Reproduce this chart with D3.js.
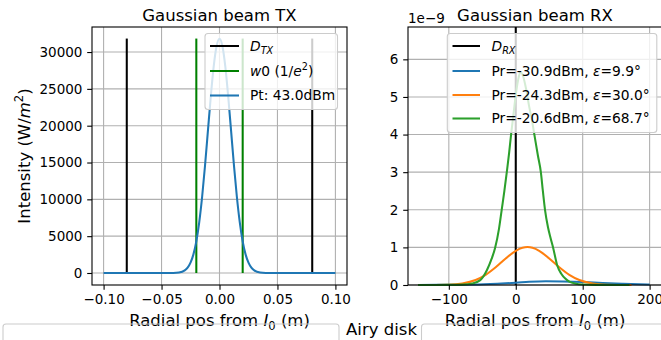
<!DOCTYPE html>
<html>
<head>
<meta charset="utf-8">
<script src="https://d3js.org/d3.v7.min.js"></script>
<style>
body { margin: 0; background: #fff; }
text { font-family: "DejaVu Sans", sans-serif; fill: #000; }
</style>
</head>
<body>
<script>
// TX beam profile (radial position in m, intensity in W/m^2)
var txPos = [-0.1, -0.06, -0.045, -0.04, -0.035, -0.03, -0.0275, -0.025, -0.0225, -0.02, -0.0175, -0.015, -0.0125, -0.01, -0.0075, -0.005, -0.0025,
  0, 0.0025, 0.005, 0.0075, 0.01, 0.0125, 0.015, 0.0175, 0.02, 0.0225, 0.025, 0.0275, 0.03, 0.035, 0.04, 0.045, 0.06, 0.1];
var txIntensity = [0, 0, 1, 11, 70, 353, 725, 1400, 2530, 4300, 6880, 10320, 14560, 19290, 24000, 28060, 30820,
  31800, 30820, 28060, 24000, 19290, 14560, 10320, 6880, 4300, 2530, 1400, 725, 353, 70, 11, 1, 0, 0];
var txAperture = [-0.08, 0.08];
var txWaist = [-0.02, 0.02];
var txLineTop = 31830;
var txTicksX = [-0.1, -0.05, 0, 0.05, 0.1];
var txTicksY = [0, 5000, 10000, 15000, 20000, 25000, 30000];

// RX profiles (radial position in m, intensity in 1e-9 W/m^2)
var rxPosBlue = [-146, -100, -48, 0, 20, 45, 70, 100, 130, 160, 200];
var rxBlue = [0, 0.005, 0.02, 0.06, 0.085, 0.1, 0.095, 0.08, 0.055, 0.035, 0.012];
var rxPosOrange = [-146, -100, -80, -60, -45, -30, -15, 0, 10, 17.5, 25, 35, 50, 65, 80, 95, 115, 135, 173];
var rxOrange = [0, 0.009, 0.04, 0.132, 0.269, 0.47, 0.706, 0.91, 0.99, 1.01, 0.99, 0.91, 0.706, 0.47, 0.269, 0.132, 0.04, 0.009, 0];
var rxPosGreen = [-146, -100, -80, -65, -53, -43, -36, -31, -25, -21, -17, -13.4, -10, -7, -3, 0, 3.5, 7, 11, 15, 20, 24, 27.8, 33, 37.5, 40.5, 43.7, 48, 52, 56, 62, 68, 74, 80, 90, 100, 120, 170];
var rxGreen = [0, 0.003, 0.01, 0.04, 0.13, 0.4, 0.7, 0.98, 1.5, 2.0, 2.5, 3.0, 3.5, 4.0, 4.6, 5.05, 5.45, 5.66, 5.55, 5.25, 4.75, 4.4, 4.0, 3.45, 3.0, 2.5, 2.0, 1.55, 1.25, 0.98, 0.52, 0.3, 0.17, 0.09, 0.035, 0.015, 0.003, 0];
var rxAperture = [0];
var rxPr = ["-30.9", "-24.3", "-20.6"];
var rxEps = ["9.9", "30.0", "68.7"];
var rxColors = ["#1f77b4", "#ff7f0e", "#2ca02c"];
var rxTicksX = [-100, 0, 100, 200];
var rxTicksY = [0, 1, 2, 3, 4, 5, 6];

var fs = 13.5;   // ticks
var lfs = 13.8;  // legend
var big = 16.5;  // titles and axis labels
var lw = 2.06;

var svg = d3.select("body").append("svg")
    .attr("width", 661)
    .attr("height", 340);

svg.append("rect").attr("width", 661).attr("height", 340).attr("fill", "#fff");

// text with italic / sub / sup pieces (like mathtext)
function rich(sel, parts, size) {
  var shift = 0;
  sel.attr("font-size", size);
  parts.forEach(function(p) {
    var ts = sel.append("tspan").text(p.t);
    var target = p.sub ? size * 0.22 : p.sup ? -size * 0.4 : 0;
    ts.attr("dy", target - shift);
    shift = target;
    if (p.sub || p.sup) ts.attr("font-size", size * 0.7);
    if (p.it) ts.attr("font-style", "italic");
  });
}

// grid lines for one panel
function frame(g, x, y, tx, ty) {
  var x0 = x.range()[0], x1 = x.range()[1], y0 = y.range()[1], y1 = y.range()[0];
  g.append("g").selectAll("line").data(tx).enter().append("line")
      .attr("x1", x).attr("x2", x).attr("y1", y0).attr("y2", y1)
      .attr("stroke", "#b0b0b0").attr("stroke-width", 1.1);
  g.append("g").selectAll("line").data(ty).enter().append("line")
      .attr("y1", y).attr("y2", y).attr("x1", x0).attr("x2", x1)
      .attr("stroke", "#b0b0b0").attr("stroke-width", 1.1);
}

// ticks, labels and spines
function axes(g, x, y, tx, ty, fx, fy) {
  var x0 = x.range()[0], x1 = x.range()[1], y0 = y.range()[1], y1 = y.range()[0];
  var ax = g.append("g")
      .attr("transform", "translate(0," + y1 + ")")
      .call(d3.axisBottom(x).tickValues(tx).tickFormat(fx).tickSize(4.8).tickPadding(4.8));
  var ay = g.append("g")
      .attr("transform", "translate(" + x0 + ",0)")
      .call(d3.axisLeft(y).tickValues(ty).tickFormat(fy).tickSize(4.8).tickPadding(4.8));
  [ax, ay].forEach(function(a) {
    a.select(".domain").remove();
    a.selectAll(".tick line").attr("stroke", "#000").attr("stroke-width", 1.1);
    a.selectAll(".tick text").attr("font-size", fs).attr("font-family", "DejaVu Sans").attr("fill", "#000");
  });
  g.append("rect")
      .attr("x", x0).attr("y", y0)
      .attr("width", x1 - x0).attr("height", y1 - y0)
      .attr("fill", "none").attr("stroke", "#000").attr("stroke-width", 1.1);
}

function legendBox(g, bx, by, bw, bh) {
  g.append("rect")
      .attr("x", bx).attr("y", by).attr("width", bw).attr("height", bh)
      .attr("rx", 3)
      .attr("fill", "#fff").attr("fill-opacity", 0.8)
      .attr("stroke", "#cccccc").attr("stroke-width", 1.1);
}

var line = d3.line().curve(d3.curveMonotoneX);
var xlabelParts = [{t: "Radial pos from "}, {t: "I", it: true}, {t: "0", sub: true}, {t: " (m)"}];

// ---------- TX panel ----------
var txX = d3.scaleLinear().domain([-0.11, 0.11]).range([92, 347]);
var txY = d3.scaleLinear().domain([-1630, 33400]).range([285, 27]);
var gt = svg.append("g");
frame(gt, txX, txY, txTicksX, txTicksY);

gt.selectAll(".ap").data(txAperture).enter().append("line")
    .attr("x1", txX).attr("x2", txX)
    .attr("y1", txY(0)).attr("y2", txY(txLineTop))
    .attr("stroke", "#000").attr("stroke-width", lw);
gt.selectAll(".wa").data(txWaist).enter().append("line")
    .attr("x1", txX).attr("x2", txX)
    .attr("y1", txY(0)).attr("y2", txY(txLineTop))
    .attr("stroke", "#008000").attr("stroke-width", lw);
gt.append("path")
    .attr("d", line(txPos.map(function(p, i) { return [txX(p), txY(txIntensity[i])]; })))
    .attr("fill", "none").attr("stroke", "#1f77b4").attr("stroke-width", lw);

axes(gt, txX, txY, txTicksX, txTicksY, d3.format(".2f"), d3.format("d"));

legendBox(gt, 205, 33.5, 132.5, 76);
var txLeg = [
  {c: "#000", parts: [{t: "D", it: true}, {t: "TX", it: true, sub: true}]},
  {c: "#008000", parts: [{t: "w", it: true}, {t: "0 (1/"}, {t: "e", it: true}, {t: "2", sup: true}, {t: ")"}]},
  {c: "#1f77b4", parts: [{t: "Pt: 43.0dBm"}]}
];
var txRows = [46, 71, 95.5];
txLeg.forEach(function(d, i) {
  gt.append("line").attr("x1", 210).attr("x2", 239).attr("y1", txRows[i]).attr("y2", txRows[i])
      .attr("stroke", d.c).attr("stroke-width", lw);
  rich(gt.append("text").attr("x", 250).attr("y", txRows[i] + 4.9), d.parts, lfs);
});

gt.append("text").attr("x", 219.5).attr("y", 20.5).attr("text-anchor", "middle")
    .attr("font-size", big).text("Gaussian beam TX");
rich(gt.append("text").attr("x", 219.5).attr("y", 326).attr("text-anchor", "middle"), xlabelParts, big);
rich(gt.append("text").attr("transform", "translate(30,156) rotate(-90)").attr("text-anchor", "middle"),
    [{t: "Intensity (W/"}, {t: "m", it: true}, {t: "2", sup: true}, {t: ")"}], big);

// ---------- RX panel ----------
var rxX = d3.scaleLinear().domain([-161, 218.5]).range([408, 662]);
var rxY = d3.scaleLinear().domain([0, 6.86]).range([285, 27]);
var gr = svg.append("g");
frame(gr, rxX, rxY, rxTicksX, rxTicksY);

gr.selectAll(".ap").data(rxAperture).enter().append("line")
    .attr("x1", rxX).attr("x2", rxX)
    .attr("y1", rxY(0)).attr("y2", rxY(6.86))
    .attr("stroke", "#000").attr("stroke-width", lw);

var rxSeries = [[rxPosBlue, rxBlue], [rxPosOrange, rxOrange], [rxPosGreen, rxGreen]];
rxSeries.forEach(function(s, k) {
  gr.append("path")
      .attr("d", line(s[0].map(function(p, i) { return [rxX(p), rxY(s[1][i])]; })))
      .attr("fill", "none").attr("stroke", rxColors[k]).attr("stroke-width", lw);
});

axes(gr, rxX, rxY, rxTicksX, rxTicksY, d3.format("d"), d3.format("d"));

legendBox(gr, 447.3, 33.5, 209.5, 99);
var rxRows = [46, 71, 95, 118.5];
gr.append("line").attr("x1", 452.5).attr("x2", 480).attr("y1", rxRows[0]).attr("y2", rxRows[0])
    .attr("stroke", "#000").attr("stroke-width", lw);
rich(gr.append("text").attr("x", 491.5).attr("y", rxRows[0] + 4.9),
    [{t: "D", it: true}, {t: "RX", it: true, sub: true}], lfs);
rxPr.forEach(function(pr, i) {
  var yy = rxRows[i + 1];
  gr.append("line").attr("x1", 452.5).attr("x2", 480).attr("y1", yy).attr("y2", yy)
      .attr("stroke", rxColors[i]).attr("stroke-width", lw);
  rich(gr.append("text").attr("x", 491.5).attr("y", yy + 4.9),
      [{t: "Pr=" + pr + "dBm, "}, {t: "\u03b5", it: true}, {t: "=" + rxEps[i] + "\u00b0"}], lfs);
});

gr.append("text").attr("x", 535).attr("y", 20.5).attr("text-anchor", "middle")
    .attr("font-size", big).text("Gaussian beam RX");
gr.append("text").attr("x", 408).attr("y", 22.5).attr("font-size", fs).text("1e\u22129");
rich(gr.append("text").attr("x", 535).attr("y", 326).attr("text-anchor", "middle"), xlabelParts, big);

// ---------- lower row (cut off) ----------
svg.append("rect").attr("x", 3).attr("y", 324).attr("width", 336).attr("height", 40)
    .attr("rx", 3).attr("fill", "none").attr("stroke", "#cccccc").attr("stroke-width", 1.1);
svg.append("rect").attr("x", 421.5).attr("y", 324).attr("width", 260).attr("height", 40)
    .attr("rx", 3).attr("fill", "none").attr("stroke", "#cccccc").attr("stroke-width", 1.1);
svg.append("text").attr("x", 381.5).attr("y", 335).attr("text-anchor", "middle")
    .attr("font-size", big).text("Airy disk");
</script>
</body>
</html>
